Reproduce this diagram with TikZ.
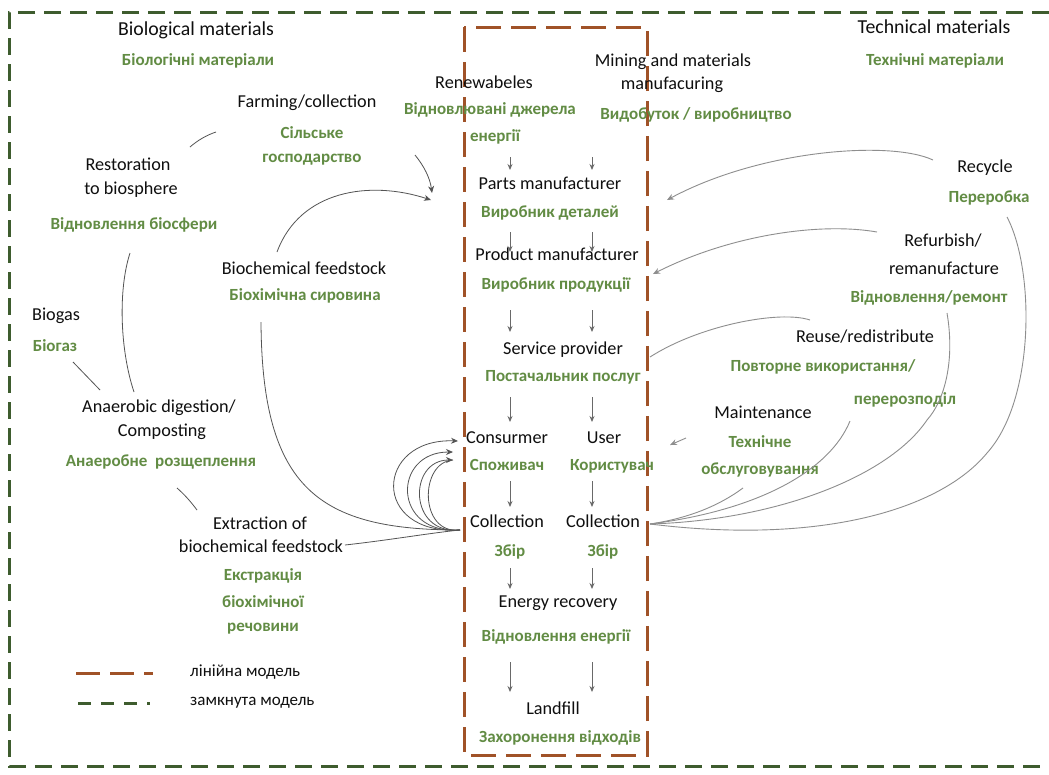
\documentclass[tikz,border=0pt]{standalone}
\usepackage{fontspec}
\setmainfont{Carlito}
\usetikzlibrary{arrows.meta}
\definecolor{gborder}{RGB}{62,92,46}
\definecolor{brownb}{RGB}{160,82,40}
\definecolor{gtext}{RGB}{98,140,68}
\definecolor{conn}{RGB}{105,105,105}
\definecolor{tblack}{RGB}{15,15,15}
\begin{document}
\begin{tikzpicture}[x=1pt,y=-1pt,
  en/.style={font=\fontsize{18.2}{20}\selectfont, text=tblack, inner sep=0pt},
  head/.style={font=\fontsize{19.8}{22}\selectfont, text=tblack, inner sep=0pt},
  ua/.style={font=\fontsize{17}{20}\selectfont\bfseries, text=gtext, inner sep=0pt},
  closedline/.style={draw=gborder, line width=3pt, dash pattern=on 17pt off 9pt},
  linearline/.style={draw=brownb, line width=3pt, dash pattern=on 25pt off 10pt},
  flow/.style={draw=conn, line width=0.9pt, -{Stealth[length=6pt,width=5pt]}},
  bio/.style={draw=conn!80!black, line width=0.8pt},
  bioarrow/.style={bio, -{Stealth[length=7pt,width=6pt]}},
  tech/.style={draw=conn!75, line width=0.9pt},
  techarrow/.style={tech, -{Stealth[length=7pt,width=6pt]}},
]
\fill[white] (0,0) rectangle (1049,774);
\useasboundingbox (0,0) rectangle (1049,774);

% frames
\draw[closedline] (1049,12) -- (9,12) -- (9,766) -- (1049,766);
\draw[linearline] (464,27) rectangle (647,755);

% left texts
\node[head] (biomat) at (196,30) {Biological materials};
\node[ua] (biomatua) at (198,61) {Біологічні матеріали};
\node[en] (farm) at (307,103) {Farming/collection};
\node[ua] (farmua1) at (312,133) {Сільське};
\node[ua] (farmua2) at (312,160) {господарство};
\node[en] (rest1) at (128,164) {Restoration};
\node[en] (rest2) at (131,190) {to biosphere};
\node[ua] (restua) at (134,225) {Відновлення біосфери};
\node[en] (bcf) at (304,268) {Biochemical feedstock};
\node[ua] (bcfua) at (305,296) {Біохімічна сировина};
\node[en] (biogas) at (56,316) {Biogas};
\node[ua] (biogasua) at (55,346) {Біогаз};
\node[en] (anae1) at (159,408) {Anaerobic digestion/};
\node[en] (anae2) at (162,432) {Composting};
\node[ua] (anaeua) at (161,462) {Анаеробне\ \ розщеплення};
\node[en] (ext1) at (260,523) {Extraction of};
\node[en] (ext2) at (261,546) {biochemical feedstock};
\node[ua] (extua1) at (263,576) {Екстракція};
\node[ua] (extua2) at (263,602) {біохімічної};
\node[ua] (extua3) at (263,629) {речовини};

% legend
\coordinate (lg1a) at (76,673); \coordinate (lg1b) at (153,673);
\coordinate (lg2a) at (78,703); \coordinate (lg2b) at (150,703);
\draw[draw=brownb, line width=3pt, dash pattern=on 24pt off 10pt] (lg1a) -- (lg1b);
\draw[draw=gborder, line width=3pt, dash pattern=on 13pt off 10pt] (lg2a) -- (lg2b);
\node[en, anchor=west, font=\fontsize{17}{19}\selectfont] (lglin) at (190,672) {лінійна модель};
\node[en, anchor=west, font=\fontsize{17}{19}\selectfont] (lgclo) at (190,703) {замкнута модель};

% centre column
\node[en] (ren) at (484,82) {Renewabeles};
\node[ua] (renua1) at (490,110) {Відновлювані джерела};
\node[ua] (renua2) at (495,137) {енергії};
\node[en] (min1) at (673,62) {Mining and materials};
\node[en] (min2) at (672,85) {manufacuring};
\node[ua] (minua) at (696,115) {Видобуток / виробництво};
\node[en] (parts) at (550,183) {Parts manufacturer};
\node[ua] (partsua) at (550,213) {Виробник деталей};
\node[en] (prod) at (557,254) {Product manufacturer};
\node[ua] (produa) at (556,285) {Виробник продукції};
\node[en] (serv) at (563,350) {Service provider};
\node[ua] (servua) at (563,377) {Постачальник послуг};
\node[en] (cons) at (507,438) {Consurmer};
\node[en] (user) at (604,438) {User};
\node[ua] (consua) at (507,465) {Споживач};
\node[ua] (userua) at (612,466) {Користувач};
\node[en] (coll1) at (507,521) {Collection};
\node[en] (coll2) at (603,521) {Collection};
\node[ua] (coll1ua) at (510,552) {Збір};
\node[ua] (coll2ua) at (603,552) {Збір};
\node[en] (energy) at (558,603) {Energy recovery};
\node[ua] (energyua) at (556,637) {Відновлення енергії};
\node[en] (land) at (553,708) {Landfill};
\node[ua] (landua) at (560,738) {Захоронення відходів};

% right texts
\node[head] (techmat) at (934,27) {Technical materials};
\node[ua] (techmatua) at (935,61) {Технічні матеріали};
\node[en] (recy) at (985,168) {Recycle};
\node[ua] (recyua) at (989,198) {Переробка};
\node[en] (refu1) at (943,241) {Refurbish/};
\node[en] (refu2) at (944,268) {remanufacture};
\node[ua] (refuua) at (929,298) {Відновлення/ремонт};
\node[en] (reuse) at (865,337) {Reuse/redistribute};
\node[ua] (reuseua1) at (823,367) {Повторне використання/};
\node[ua] (reuseua2) at (905,400) {перерозподіл};
\node[en] (maint) at (763,412) {Maintenance};
\node[ua] (maintua1) at (760,442) {Технічне};
\node[ua] (maintua2) at (760,470) {обслуговування};

% centre flow arrows
\foreach \x in {510,592} {
  \draw[flow] (\x,157) -- (\x,170);
  \draw[flow] (\x,232) -- (\x,252);
  \draw[flow] (\x,310) -- (\x,332);
  \draw[flow] (\x,397) -- (\x,422);
  \draw[flow] (\x,481) -- (\x,507);
  \draw[flow] (\x,568) -- (\x,589);
  \draw[flow] (\x,662) -- (\x,692);
}

% biological connectors
\coordinate (cA) at (190,147); \coordinate (cB) at (216,132);
\draw[bio] (cA) .. controls (198,140) and (207,135) .. (cB);
\coordinate (fA) at (415,155); \coordinate (fB) at (432,193);
\draw[bioarrow] (fA) .. controls (424,166) and (430,178) .. (fB);
\coordinate (bA) at (277,252); \coordinate (bB) at (431,200);
\draw[bioarrow] (bA) .. controls (300,190) and (370,180) .. (bB);
\coordinate (rA) at (130,253); \coordinate (rB) at (134,392);
\draw[bio] (rA) .. controls (118,290) and (120,350) .. (rB);
\coordinate (gA) at (73,362); \coordinate (gB) at (100,390);
\draw[bio] (gA) -- (gB);
\coordinate (collL) at (460,530);
\coordinate (bfA) at (261,322);
\draw[bio] (bfA) .. controls (262,490) and (320,530) .. (collL);
\coordinate (aA) at (177,488); \coordinate (aB) at (197,510);
\draw[bio] (aA) .. controls (185,495) and (191,502) .. (aB);
\coordinate (eA) at (345,545);
\draw[bio] (eA) .. controls (390,540) and (430,533) .. (collL);
\coordinate (lp1) at (458,441); \coordinate (lp2) at (453,452); \coordinate (lp3) at (453,460);
\draw[bioarrow] (collL) .. controls (370,535) and (375,438) .. (lp1);
\draw[bioarrow] (collL) .. controls (392,535) and (392,452) .. (lp2);
\draw[bioarrow] (collL) .. controls (408,535) and (408,460) .. (lp3);
\draw[bio] (collL) .. controls (419,535) and (419,462) .. (lp3);

% technical connectors
\coordinate (collR) at (650,524);
\coordinate (tA) at (933,160); \coordinate (tB) at (667,200);
\draw[techarrow] (tA) .. controls (890,140) and (760,150) .. (tB);
\coordinate (uA) at (877,232); \coordinate (uB) at (653,274);
\draw[techarrow] (uA) .. controls (820,222) and (730,235) .. (uB);
\coordinate (sA) at (810,320); \coordinate (sB) at (650,357);
\draw[tech] (sA) .. controls (780,310) and (700,325) .. (sB);
\coordinate (mA) at (686,438); \coordinate (mB) at (670,445);
\draw[techarrow] (mA) -- (mB);
\coordinate (rc1) at (1007,217); \coordinate (rc2) at (987,453);
\draw[tech] (rc1) .. controls (1035,270) and (1035,400) .. (rc2) .. controls (940,510) and (820,545) .. (collR);
\coordinate (rf1) at (947,313); \coordinate (rf2) at (927,420);
\draw[tech] (rf1) .. controls (955,360) and (945,400) .. (rf2) .. controls (890,475) and (780,520) .. (collR);
\coordinate (ru1) at (850,421);
\draw[tech] (ru1) .. controls (830,470) and (760,510) .. (collR);
\coordinate (mt1) at (743,488);
\draw[tech] (mt1) .. controls (720,505) and (690,518) .. (collR);
\end{tikzpicture}
\end{document}
